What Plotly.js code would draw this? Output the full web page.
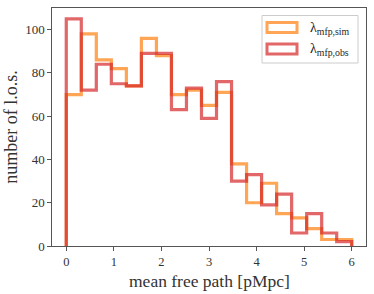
<!DOCTYPE html>
<html>
<head>
<meta charset="utf-8">
<script src="https://cdn.plot.ly/plotly-3.0.1.min.js"></script>
<style>
html,body{margin:0;padding:0;background:#fff;}
#chart{width:374px;height:294px;}
</style>
</head>
<body>
<div id="chart"></div>
<script>
// Histogram definition
const histMin = 0;
const histMax = 6;
const nBins = 19;
// Counts per bin
const simCounts = [70, 98, 86, 82, 74, 96, 88, 70, 72, 65, 71, 38, 20, 29, 15, 13, 8, 3, 3];
const obsCounts = [105, 72, 84, 75, 74, 89, 89, 63, 73, 59, 76, 30, 33, 19, 24, 6, 15, 6, 2];
const seriesNames = ['λ<sub>mfp,sim</sub>', 'λ<sub>mfp,obs</sub>'];
const xTicks = [0, 1, 2, 3, 4, 5, 6];
const yTicks = [0, 20, 40, 60, 80, 100];

const edges = [];
for (let i = 0; i <= nBins; i++) edges.push(histMin + (histMax - histMin) * i / nBins);

function stepXY(counts) {
  const x = [edges[0]], y = [0];
  counts.forEach((c, i) => { x.push(edges[i]); y.push(c); });
  x.push(edges[nBins]); y.push(0);
  return {x, y};
}

const FONT = 'Liberation Serif, DejaVu Serif, serif';
const cols = ['#ff7f0e', '#d62728'];
const s1 = stepXY(simCounts), s2 = stepXY(obsCounts);

const traces = [
  {x: s1.x, y: s1.y, type: 'scatter', mode: 'lines', line: {shape: 'hv', color: cols[0], width: 3.2}, opacity: 0.7, name: seriesNames[0], showlegend: false, hoverinfo: 'none'},
  {x: s2.x, y: s2.y, type: 'scatter', mode: 'lines', line: {shape: 'hv', color: cols[1], width: 3.2}, opacity: 0.7, name: seriesNames[1], showlegend: false, hoverinfo: 'none'}
];

// Custom legend (paper coords) mimicking matplotlib patches
const L = 52, R = 366, T = 8, B = 246;
const px = v => (v - L) / (R - L);
const py = v => (B - v) / (B - T);
const shapes = [
  {type: 'rect', xref: 'paper', yref: 'paper', x0: px(262), x1: px(358), y0: py(15.5), y1: py(63), line: {color: 'rgba(204,204,204,1)', width: 1}, fillcolor: 'rgba(255,255,255,0.8)', layer: 'above'},
  {type: 'rect', xref: 'paper', yref: 'paper', x0: px(267), x1: px(297), y0: py(22.5), y1: py(32.5), line: {color: cols[0], width: 3}, fillcolor: 'rgba(0,0,0,0)', opacity: 0.7, layer: 'above'},
  {type: 'rect', xref: 'paper', yref: 'paper', x0: px(267), x1: px(297), y0: py(44), y1: py(54), line: {color: cols[1], width: 3}, fillcolor: 'rgba(0,0,0,0)', opacity: 0.7, layer: 'above'}
];
const annotations = [
  {xref: 'paper', yref: 'paper', x: px(308), y: py(28), xanchor: 'left', yanchor: 'middle', text: seriesNames[0], showarrow: false, font: {family: FONT, size: 14, color: '#222'}},
  {xref: 'paper', yref: 'paper', x: px(308), y: py(49.5), xanchor: 'left', yanchor: 'middle', text: seriesNames[1], showarrow: false, font: {family: FONT, size: 14, color: '#222'}},
  {xref: 'paper', yref: 'paper', x: 0.5, y: py(280.5), xanchor: 'center', yanchor: 'middle', text: 'mean free path [pMpc]', showarrow: false, font: {family: FONT, size: 17.5, color: '#333'}}
];

const layout = {
  width: 374, height: 294,
  margin: {l: 52, r: 8, t: 8, b: 48},
  paper_bgcolor: '#fff', plot_bgcolor: '#fff',
  font: {family: FONT, size: 12, color: '#333'},
  showlegend: false,
  xaxis: {
    range: [-0.3, 6.3], tickvals: xTicks, ticktext: xTicks.map(String),
    showgrid: false, zeroline: false, showline: true, mirror: true,
    linecolor: '#555', linewidth: 1.2, ticks: 'outside', ticklen: 3.5, tickcolor: '#555', tickwidth: 1,
    tickfont: {family: FONT, size: 12.5, color: '#333'}
  },
  yaxis: {
    range: [0, 110], tickvals: yTicks, ticktext: yTicks.map(String),
    showgrid: false, zeroline: false, showline: true, mirror: true,
    linecolor: '#555', linewidth: 1.2, ticks: 'outside', ticklen: 3.5, tickcolor: '#555', tickwidth: 1,
    tickfont: {family: FONT, size: 13, color: '#333'},
    title: {text: 'number of l.o.s.', font: {family: FONT, size: 18, color: '#333'}, standoff: 3}
  },
  shapes: shapes,
  annotations: annotations
};

Plotly.newPlot('chart', traces, layout, {displayModeBar: false, staticPlot: true});
</script>
</body>
</html>
